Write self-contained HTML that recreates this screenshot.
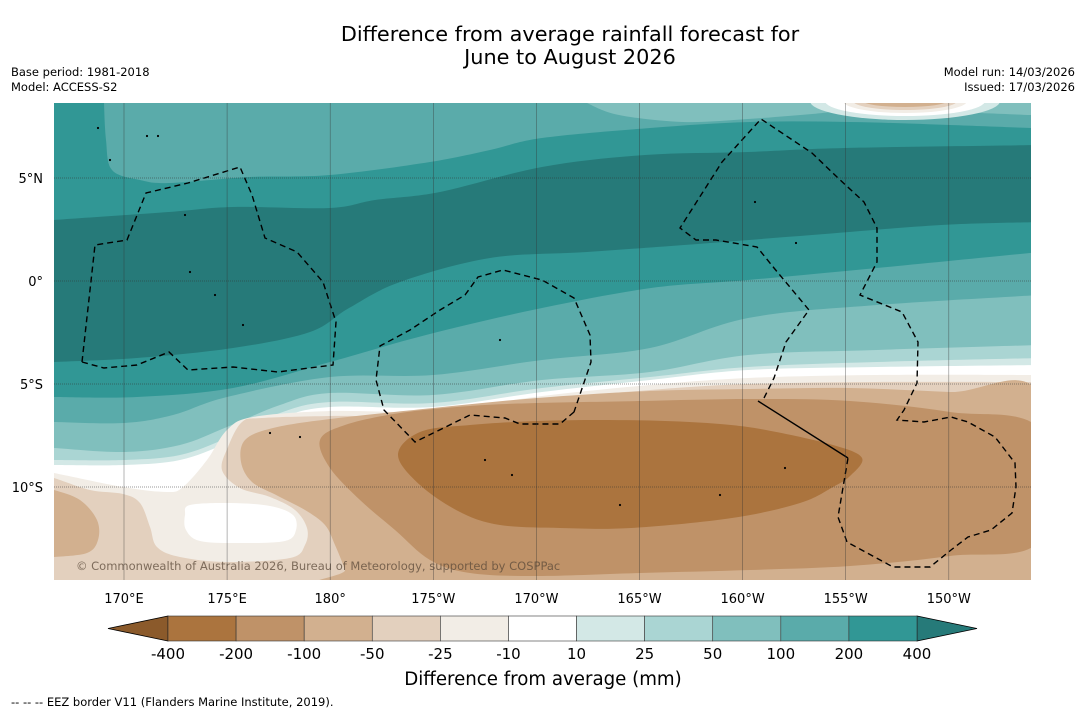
<!DOCTYPE html>
<html><head><meta charset="utf-8">
<style>
html,body{margin:0;padding:0;background:#fff;}
body{width:1085px;height:713px;overflow:hidden;font-family:"DejaVu Sans","Liberation Sans",sans-serif;}
svg text{font-family:"DejaVu Sans","Liberation Sans",sans-serif;}
</style></head>
<body>
<svg id="chart" width="1085" height="713" viewBox="0 0 1085 713" xmlns="http://www.w3.org/2000/svg">
<text x="570" y="41" font-size="20.8" text-anchor="middle" fill="#000">Difference from average rainfall forecast for</text>
<text x="570" y="64" font-size="20.8" text-anchor="middle" fill="#000">June to August 2026</text>
<text x="11" y="76" font-size="11.5" fill="#000">Base period: 1981-2018</text>
<text x="11" y="91" font-size="11.5" fill="#000">Model: ACCESS-S2</text>
<text x="1075" y="76" font-size="11.5" text-anchor="end" fill="#000">Model run: 14/03/2026</text>
<text x="1075" y="91" font-size="11.5" text-anchor="end" fill="#000">Issued: 17/03/2026</text>
<defs><clipPath id="mapclip"><rect x="54" y="103" width="977" height="477"/></clipPath></defs>
<g id="map" clip-path="url(#mapclip)"></g>
<g id="axes"></g>
<g id="cbar"></g>
<text x="543" y="685" font-size="18.2" text-anchor="middle" fill="#000">Difference from average (mm)</text>
<text x="11" y="706" font-size="11.5" fill="#000">--  --  -- EEZ border V11 (Flanders Marine Institute, 2019).</text>
</svg>
<script>
// colorbar data
const levels = ["-400","-200","-100","-50","-25","-10","10","25","50","100","200","400"];
const bandColors = ["#AB743E","#BF9268","#D2B08F","#E3D0BE","#F2EDE6","#FFFFFF","#D3E8E6","#AAD5D3","#80BFBD","#5AABAA","#319795"];
const underColor = "#8B5A2B";
const overColor = "#267A79";
// axis ticks
const lonLabels = ["170°E","175°E","180°","175°W","170°W","165°W","160°W","155°W","150°W"];
const lonValues = [170,175,180,185,190,195,200,205,210];
const latLabels = ["5°N","0°","5°S","10°S"];
const latValues = [5,0,-5,-10];

const NS="http://www.w3.org/2000/svg";
const lonX = v => 124 + (v-170)*20.62;
const latY = v => 281 - v*20.6;
function mk(tag, attrs, parent){const e=document.createElementNS(NS,tag);for(const k in attrs)e.setAttribute(k,attrs[k]);parent.appendChild(e);return e;}
function smooth(pts, closed){
  const n=pts.length;let d="M"+pts[0][0]+","+pts[0][1];
  const g=i=>closed?pts[(i+n)%n]:pts[Math.max(0,Math.min(n-1,i))];
  const lim=closed?n:n-1;
  for(let i=0;i<lim;i++){
    const p0=g(i-1),p1=g(i),p2=g(i+1),p3=g(i+2);
    const c1=[p1[0]+(p2[0]-p0[0])/6,p1[1]+(p2[1]-p0[1])/6];
    const c2=[p2[0]-(p3[0]-p1[0])/6,p2[1]-(p3[1]-p1[1])/6];
    d+=" C"+c1.map(v=>v.toFixed(1))+" "+c2.map(v=>v.toFixed(1))+" "+p2[0]+","+p2[1];
  }
  return d;
}
const map=document.getElementById('map');
function area(name,color,d){const p=mk('path',{d:d,fill:color},map);

return p;}
function below(line){return smooth(line,false)+" L1040,590 L45,590 Z";}
function poly(pts){return smooth(pts,true)+" Z";}

// base
area('band-200-400','#319795','M40,95 H1045 V595 H40 Z');
// north
const N200=[[104,95],[104,103],[106,140],[112,170],[140,180],[170,183],[250,177],[330,175],[430,162],[490,150],[542,138],[650,128],[750,122],[850,122],[950,125],[1031,128],[1045,128]];
area('band-100-200-north','#5AABAA',smooth(N200,false)+" L1045,95 Z");
const N50=[[575,95],[587,103],[619,115],[683,122],[748,119],[812,114],[860,110],[950,112],[1031,115],[1045,115]];
area('band-50-100-north','#80BFBD',smooth(N50,false)+" L1045,95 Z");
[["#D3E8E6",95,19],["#FFFFFF",80,15],["#F2EDE6",62,12],["#E3D0BE",52,9],["#D2B08F",42,6]].forEach(b=>{
  const e=mk('ellipse',{cx:905,cy:101,rx:b[1],ry:b[2],fill:b[0]},map);
  
  
});
const Dtop=[[45,221],[54,220],[169,212],[233,207],[330,208],[375,200],[440,192],[542,167],[645,155],[748,152],[845,148],[1040,145]];
const Dbot=[[1040,222],[941,225],[812,235],[684,245],[587,252],[490,258],[400,282],[349,308],[310,332],[233,348],[137,358],[54,362],[45,362]];
area('band-over-400','#267A79',smooth(Dtop,false)+" L"+smooth(Dbot,false).slice(1)+" Z");
// south teal -> white
const S200=[[45,397],[54,397],[137,397],[233,388],[330,362],[426,335],[542,308],[651,288],[748,280],[877,268],[1040,252]];
const S100=[[45,422],[54,422],[124,423],[173,415],[227,397],[330,377],[433,375],[542,360],[650,348],[748,318],[877,305],[1040,295]];
const S50=[[45,448],[54,448],[124,452],[180,445],[227,427],[280,405],[330,393],[433,395],[542,380],[650,372],[748,355],[877,350],[1040,345]];
const S25=[[45,460],[54,460],[124,460],[180,455],[227,438],[280,413],[330,402],[433,403],[542,388],[650,377],[748,367],[877,362],[1040,358]];
const S10=[[45,465],[54,465],[124,465],[180,460],[227,443],[280,418],[330,407],[433,407],[542,392],[650,380],[748,370],[877,367],[1040,365]];
const Sm10=[[45,472],[54,473],[123,487],[167,492],[183,487],[207,460],[227,430],[253,417],[330,411],[433,411],[542,396],[650,385],[748,378],[877,375],[1040,375]];
area('band-100-200-south','#5AABAA',below(S200));
area('band-50-100-south','#80BFBD',below(S100));
area('band-25-50-south','#AAD5D3',below(S50));
area('band-10-25-south','#D3E8E6',below(S25));
area('band-neutral','#FFFFFF',below(S10));
area('band-m10-m25','#F2EDE6',below(Sm10));
const Sm25=[[45,477],[54,478],[90,490],[123,494],[140,503],[150,527],[157,547],[180,557],[227,562],[290,558],[305,545],[307,528],[295,510],[270,497],[240,488],[222,470],[228,447],[242,422],[262,418],[330,416],[433,415],[542,400],[650,390],[748,384],[877,382],[1040,382]];
area('band-m25-m50','#E3D0BE',below(Sm25));
// white blob inside
area('neutral-blob','#FFFFFF',poly([[190,505],[230,503],[270,506],[293,515],[296,530],[285,541],[240,543],[200,541],[186,530],[185,515]]));
// left brown patch
area('left-dry-patch','#D2B08F',poly([[40,488],[54,490],[80,500],[97,520],[98,540],[87,553],[54,557],[40,557]]));
// large -50..-100 region
area('band-m50-m100','#D2B08F',poly([[245,440],[273,428],[330,419],[433,408],[537,398],[650,391],[750,389],[850,388],[950,392],[1040,396],[1045,595],[352,595],[345,570],[335,545],[325,525],[305,510],[278,496],[252,482],[241,462]]));
area('band-m100-m200','#BF9268',poly([[320,440],[345,425],[400,413],[470,406],[537,403],[640,401],[750,399],[850,401],[950,412],[1040,430],[1040,540],[950,556],[850,566],[750,570],[640,573],[537,576],[470,573],[430,560],[395,530],[360,500],[330,468]]));
area('band-m200-m400','#AB743E',poly([[398,455],[420,432],[470,425],[537,421],[600,420],[665,421],[720,424],[766,430],[833,445],[862,458],[850,476],[833,487],[800,503],[732,518],[631,528],[560,528],[500,525],[460,512],[420,485]]));

// EEZ borders
const eez=[
 [[82,362],[95,245],[127,240],[146,193],[188,183],[240,167],[252,195],[265,238],[297,252],[323,282],[336,322],[333,365],[278,372],[233,367],[188,370],[169,352],[137,365],[104,368],[82,362]],
 [[574,412],[560,424],[520,424],[505,418],[470,415],[415,442],[384,410],[376,380],[380,346],[410,330],[440,310],[465,295],[478,277],[503,270],[542,280],[574,298],[590,335],[591,362],[574,412]],
 [[764,398],[774,378],[786,342],[809,310],[774,268],[757,247],[716,240],[696,240],[680,228],[722,162],[761,119],[812,153],[838,178],[864,202],[877,228],[877,262],[860,295],[902,312],[918,342],[917,383],[904,410],[897,420],[924,422],[951,417],[968,422],[995,437],[1015,463],[1016,487],[1012,513],[991,530],[968,537],[951,550],[930,567],[893,567],[847,542],[838,517],[848,458]]
];
eez.forEach((pts,i)=>{
  const d="M"+pts.map(p=>p.join(",")).join(" L");
  const p=mk('path',{d:d,fill:"none",stroke:"#000","stroke-width":1.4,"stroke-dasharray":"6,4"},map);
  
  
});
const solid=mk('path',{d:"M758,401 L848,458",fill:"none",stroke:"#000","stroke-width":1.4},map);


// islands dots
[[147,136],[158,136],[185,215],[190,272],[215,295],[243,325],[485,460],[512,475],[720,495],[785,468],[796,243],[755,202],[620,505],[500,340],[270,433],[300,437],[110,160],[98,128]].forEach(p=>{
  const c=mk('circle',{cx:p[0],cy:p[1],r:1.1,fill:"#000"},map);
  
  
});
const copy=mk('text',{x:76,y:570,"font-size":11.5,fill:"#5b4a3a","fill-opacity":0.75},map);
copy.textContent="© Commonwealth of Australia 2026, Bureau of Meteorology, supported by COSPPac";



// grid & axes
const axes=document.getElementById('axes');
lonValues.forEach((v,i)=>{
  const x=lonX(v);
  const l=mk('line',{x1:x,y1:103,x2:x,y2:580,stroke:"#333","stroke-width":0.6,"stroke-opacity":0.6},axes);
  
  
  const t=mk('text',{x:x,y:603,"font-size":13,"text-anchor":"middle",fill:"#000"},axes);
  t.textContent=lonLabels[i];
  
  
});
latValues.forEach((v,i)=>{
  const y=latY(v);
  const l=mk('line',{x1:54,y1:y,x2:1031,y2:y,stroke:"#333","stroke-width":0.7,"stroke-opacity":0.65,"stroke-dasharray":"1,1"},axes);
  
  
  const t=mk('text',{x:43,y:y+5,"font-size":13,"text-anchor":"end",fill:"#000"},axes);
  t.textContent=latLabels[i];
  
  
});

// colorbar
const cb=document.getElementById('cbar');
const cx0=168,cx1=917,cy0=616,cy1=641,bw=(cx1-cx0)/bandColors.length;
const tl=mk('polygon',{points:`108,${(cy0+cy1)/2} ${cx0},${cy0} ${cx0},${cy1}`,fill:underColor,stroke:"#000","stroke-width":0.8},cb);


const tr=mk('polygon',{points:`977,${(cy0+cy1)/2} ${cx1},${cy0} ${cx1},${cy1}`,fill:overColor,stroke:"#000","stroke-width":0.8},cb);


bandColors.forEach((c,i)=>{
  const r=mk('rect',{x:cx0+i*bw,y:cy0,width:bw,height:cy1-cy0,fill:c,stroke:"#333","stroke-width":0.6},cb);
  
  
});
levels.forEach((lv,i)=>{
  const t=mk('text',{x:cx0+i*bw,y:659,"font-size":15,"text-anchor":"middle",fill:"#000"},cb);
  t.textContent=lv;
  
  
});
</script>
</body></html>
